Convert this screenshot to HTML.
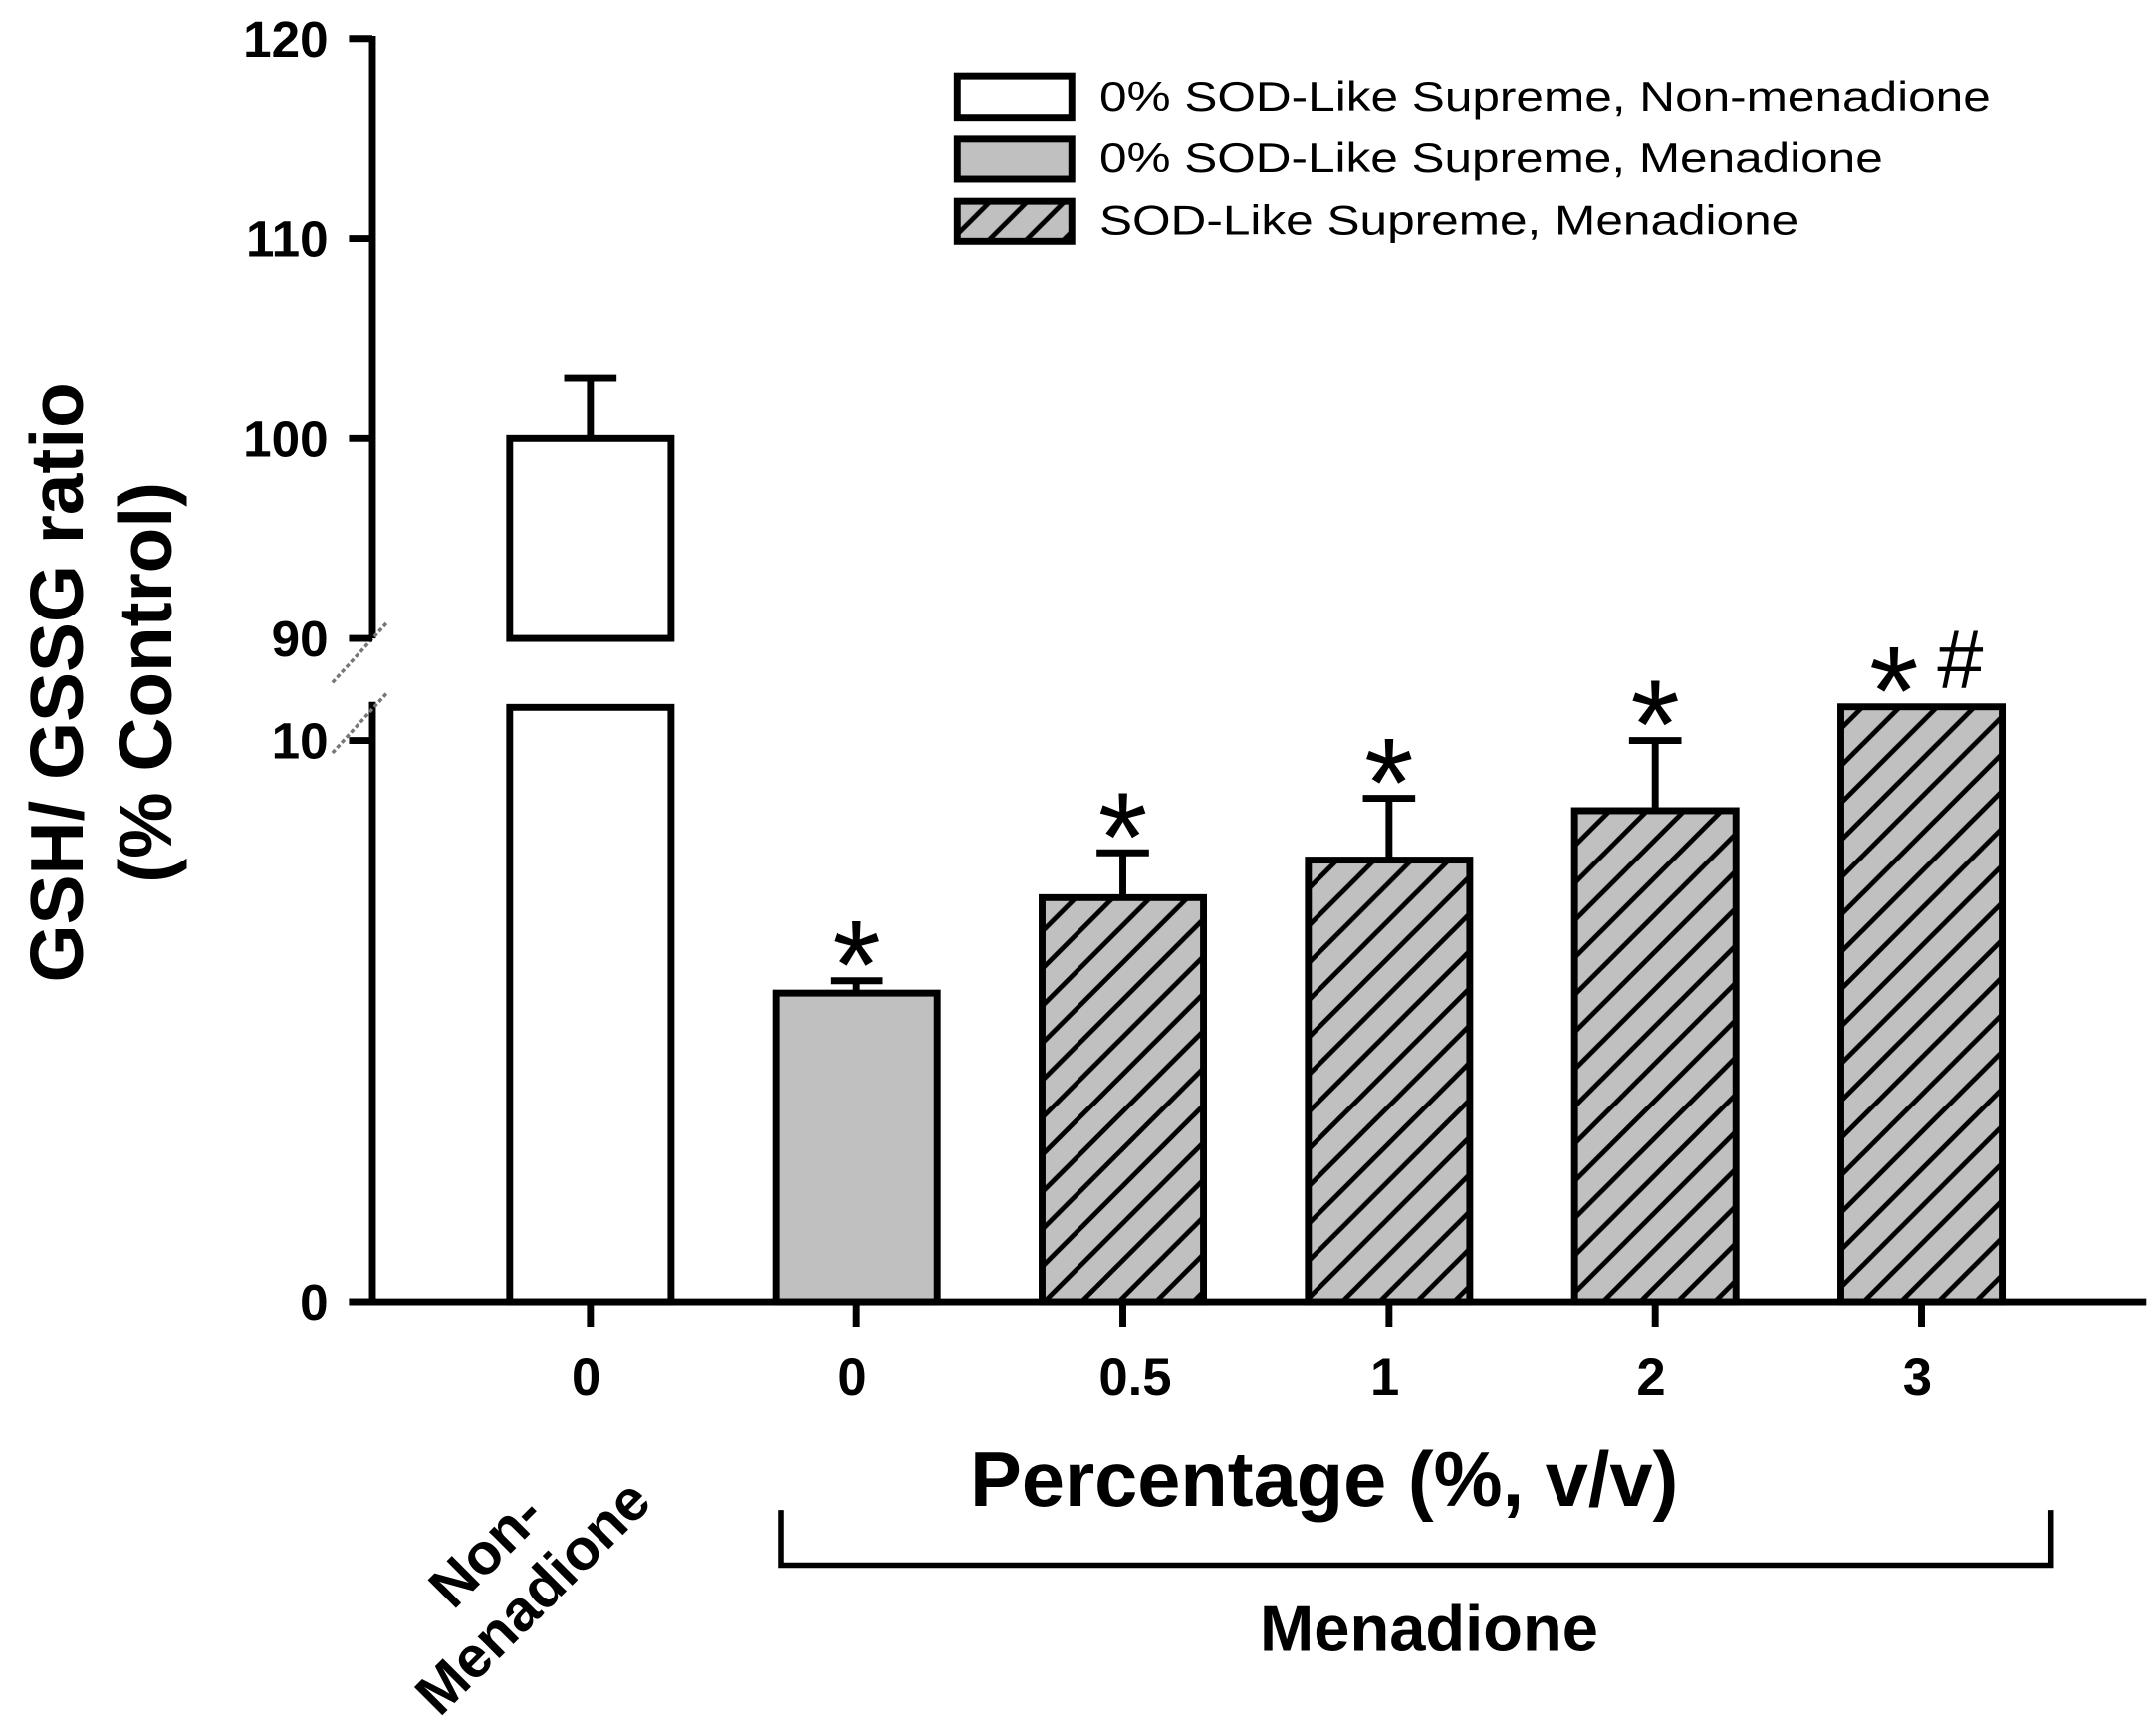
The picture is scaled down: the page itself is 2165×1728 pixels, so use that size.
<!DOCTYPE html>
<html><head><meta charset="utf-8"><style>
html,body{margin:0;padding:0;background:#fff;}
svg{display:block;font-family:"Liberation Sans",Arial,sans-serif;}
</style></head><body>
<svg id="chart" width="2165" height="1728" viewBox="0 0 1563 1248" preserveAspectRatio="none" xmlns="http://www.w3.org/2000/svg">
<defs>
<pattern id="hatch" patternUnits="userSpaceOnUse" width="27" height="27">
<rect width="27" height="27" fill="#c0c0c0"/>
<path d="M-3,30 L30,-3 M-3,3 L3,-3 M24,30 L30,24" stroke="#000" stroke-width="3.5"/>
</pattern>
</defs>
<g id="plot"></g>
<g font-size="30">
<rect x="694" y="55" width="83" height="30" fill="#fff" stroke="#000" stroke-width="5"/>
<text x="797" y="80" textLength="646" lengthAdjust="spacingAndGlyphs">0% SOD-Like Supreme, Non-menadione</text>
<rect x="694" y="101" width="83" height="29" fill="#c0c0c0" stroke="#000" stroke-width="5"/>
<text x="797" y="125" textLength="568" lengthAdjust="spacingAndGlyphs">0% SOD-Like Supreme, Menadione</text>
<rect x="694" y="146" width="83" height="29" fill="url(#hatch)" stroke="#000" stroke-width="5"/>
<text x="797" y="170" textLength="507" lengthAdjust="spacingAndGlyphs">SOD-Like Supreme, Menadione</text>
</g>
<text font-weight="bold" font-size="54" text-anchor="middle" transform="translate(60,495) rotate(-90)">GSH/ GSSG ratio</text>
<text font-weight="bold" font-size="54" text-anchor="middle" transform="translate(124,495) rotate(-90)">(% Control)</text>
<text font-weight="bold" font-size="56" text-anchor="middle" x="960" y="1092">Percentage (%, v/v)</text>
<path d="M566,1095 V1135 H1487 V1095" fill="none" stroke="#000" stroke-width="4"/>
<text font-weight="bold" font-size="47" text-anchor="middle" x="1036" y="1197">Menadione</text>
<g font-weight="bold" font-size="42" text-anchor="middle" transform="translate(368,1140) rotate(-45)">
<text x="0" y="-8">Non-</text><text x="0" y="40">Menadione</text>
</g>
</svg>
<script>
const categories = ["0", "0", "0.5", "1", "2", "3"];
const values = [100, 5.5, 7.2, 7.87, 8.75, 10.6];
const errors = [3, 0.22, 0.8, 1.1, 1.25, 0];
const stars = ["", "*", "*", "*", "*", "*"];
const hashes = ["", "", "", "", "", "#"];
const fills = ["#fff", "#c0c0c0", "url(#hatch)", "url(#hatch)", "url(#hatch)", "url(#hatch)"];
const upperTicks = [90, 100, 110, 120];
const lowerTicks = [0, 10];

const NS = "http://www.w3.org/2000/svg";
const plot = document.getElementById("plot");
const AX = 270, BASE = 944, BREAK_LO = 509, BREAK_HI = 463;
function yScale(v) { return v <= 10.7 ? BASE - v * 40.7 : BREAK_HI - (v - 90) * 14.5; }
function xCenter(i) { return 428 + i * 193; }
const BW = 117;
function mk(tag, attrs, parent) {
  const e = document.createElementNS(NS, tag);
  for (const k in attrs) e.setAttribute(k, attrs[k]);
  (parent || plot).appendChild(e);
  return e;
}
categories.forEach((c, i) => {
  const cx = xCenter(i), v = values[i];
  const x0 = cx - BW / 2;
  if (v > 10.7) {
    const top = mk("rect", {x: x0, y: yScale(v), width: BW, height: BREAK_HI - yScale(v), fill: fills[i], stroke: "#000", "stroke-width": 5});
    
    
    const low = mk("rect", {x: x0, y: BREAK_LO + 4, width: BW, height: BASE - BREAK_LO - 4, fill: fills[i], stroke: "#000", "stroke-width": 5});
    
    
  } else {
    const r = mk("rect", {x: x0, y: yScale(v), width: BW, height: BASE - yScale(v), fill: fills[i], stroke: "#000", "stroke-width": 5});
    
    
  }
  let topY = yScale(v);
  if (errors[i] > 0) {
    const ey = yScale(v + errors[i]);
    const eb = mk("path", {d: `M${cx},${yScale(v)} V${ey} M${cx - 19},${ey} H${cx + 19}`, stroke: "#000", "stroke-width": 5, fill: "none"});
    
    
    topY = ey;
  }
  const hasHash = hashes[i] !== "";
  if (stars[i]) {
    const sx = hasHash ? cx - 20 : cx;
    const t = mk("text", {x: sx, y: topY + 20, "text-anchor": "middle", "font-size": 92});
    t.textContent = stars[i];
    
    
  }
  if (hasHash) {
    const h = mk("text", {x: cx + 28, y: topY - 14, "text-anchor": "middle", "font-size": 60});
    h.textContent = hashes[i];
    
    
  }
  const tk = mk("line", {x1: cx, y1: BASE, x2: cx, y2: BASE + 18, stroke: "#000", "stroke-width": 5});
  
  
  const lb = mk("text", {x: cx - 3 + (i===2?12:0), y: BASE + 68, "text-anchor": "middle", "font-size": 38, "font-weight": "bold"});
  lb.textContent = c;
  
  
});
const ya1 = mk("line", {x1: AX, y1: yScale(120) - 2, x2: AX, y2: BREAK_HI, stroke: "#000", "stroke-width": 5});


const ya2 = mk("line", {x1: AX, y1: BREAK_LO, x2: AX, y2: BASE + 2, stroke: "#000", "stroke-width": 5});


const xa = mk("line", {x1: AX - 17, y1: BASE, x2: 1556, y2: BASE, stroke: "#000", "stroke-width": 5});


const br = mk("path", {d: `M241,${BREAK_HI + 32} L281,${BREAK_HI - 12} M241,${BREAK_LO + 37} L281,${BREAK_LO - 7}`, stroke: "#777", "stroke-width": 2.5, "stroke-dasharray": "3,2", fill: "none"});


upperTicks.concat(lowerTicks).forEach(t => {
  const y = yScale(t);
  const tl = mk("line", {x1: AX - 17, y1: y, x2: AX, y2: y, stroke: "#000", "stroke-width": 5});
  
  
  const tx = mk("text", {x: 238, y: y + 13, "text-anchor": "end", "font-size": 37, "font-weight": "bold"});
  tx.textContent = t;
  
  
});
</script>
</body></html>
